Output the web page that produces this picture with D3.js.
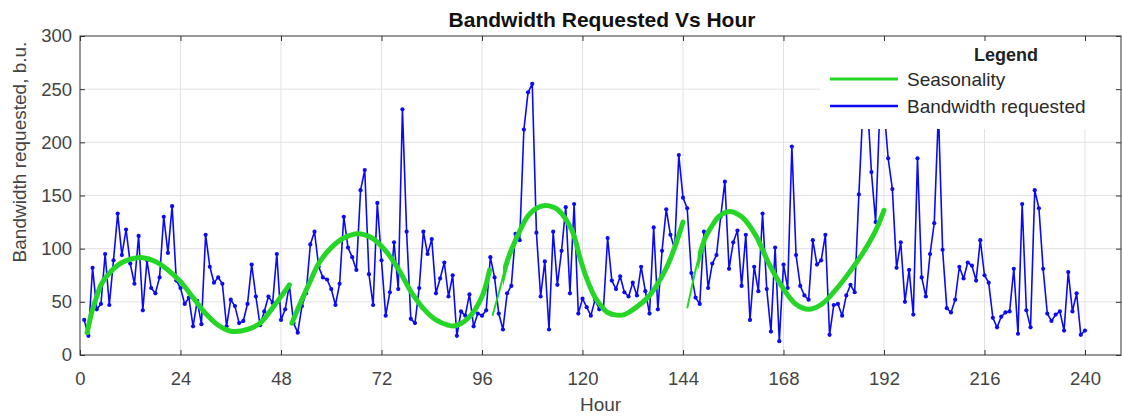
<!DOCTYPE html>
<html>
<head>
<meta charset="utf-8">
<script src="https://cdn.jsdelivr.net/npm/d3@7"></script>
<style>
  body { margin: 0; background: #fff; }
  svg { display: block; font-family: "Liberation Sans", Arial, sans-serif; }
</style>
</head>
<body>
<svg id="chart" width="1122" height="417"></svg>
<script>
// bandwidth requested per hour, hours 1..240
const bandwidth = [
  33, 18, 82, 43, 48, 95, 47, 89, 133, 94,
  118, 86, 67, 112, 42, 89, 63, 58, 73, 130,
  96, 140, 70, 63, 48, 54, 27, 51, 29, 113,
  83, 68, 73, 67, 27, 52, 46, 30, 32, 48,
  85, 55, 28, 41, 55, 49, 95, 33, 43, 66,
  30, 21, 46, 58, 104, 116, 83, 73, 71, 62,
  47, 67, 130, 101, 92, 80, 155, 174, 76, 47,
  143, 89, 37, 59, 106, 62, 231, 116, 34, 30,
  63, 116, 95, 109, 58, 72, 87, 55, 75, 18,
  41, 37, 57, 27, 39, 37, 42, 92, 73, 39,
  24, 58, 65, 114, 108, 212, 247, 255, 115, 55,
  88, 24, 116, 66, 98, 139, 58, 142, 39, 53,
  45, 37, 52, 43, 43, 110, 70, 62, 74, 59,
  55, 68, 56, 83, 60, 39, 120, 43, 98, 137,
  113, 100, 188, 148, 138, 77, 54, 48, 116, 63,
  86, 94, 130, 163, 81, 106, 117, 65, 113, 33,
  83, 60, 133, 62, 22, 101, 13, 85, 63, 196,
  94, 65, 56, 52, 108, 85, 89, 113, 19, 47,
  48, 37, 56, 66, 59, 151, 235, 240, 172, 125,
  230, 232, 185, 156, 82, 106, 50, 80, 38, 185,
  73, 55, 95, 124, 228, 99, 44, 40, 52, 83,
  72, 87, 84, 70, 108, 75, 68, 35, 26, 36,
  40, 41, 81, 20, 142, 42, 26, 155, 138, 81,
  39, 32, 38, 41, 23, 78, 41, 58, 19, 23
];

// seasonality curve, four separate fits: [hour, value]
const season1 = [[1.7, 21], [2.8, 40], [4, 55], [5, 66], [7, 77], [10, 87], [13, 91], [15, 91.5],
  [18, 88], [21, 80], [24, 69], [27, 54], [30, 39], [33, 28], [35.5, 23], [37, 22], [40, 24],
  [43, 30], [46.5, 47], [50, 66]];
const season2 = [[50.6, 30], [52.2, 45], [54.6, 66], [57, 86], [60, 101], [63, 110], [66.4, 114],
  [69.7, 110], [73, 98], [76, 81], [79.3, 58], [82.4, 42], [85, 33], [88, 28], [89.6, 27.5],
  [92.8, 35], [96, 55], [97.8, 80]];
const season3 = [[98.5, 37], [100, 58], [102, 88], [104, 108], [107, 131], [109, 138], [111, 140.5],
  [113, 139], [114.3, 136], [117.5, 117], [119.5, 90], [121, 72], [123, 54], [124.7, 45],
  [126, 40], [128.2, 37.5], [130, 38], [131.8, 42], [135.8, 55], [139.8, 80], [142, 101], [144, 125]];
const season4 = [[145, 44], [146, 62], [147, 80], [148.2, 97], [149.4, 111], [151, 122], [152.5, 130],
  [155, 135], [158, 130], [161.3, 113], [164.5, 86], [167.7, 64], [170.9, 48], [174, 43],
  [177.2, 48], [180.4, 61], [183.6, 77], [186.8, 95], [190, 117], [192, 136]];
const seasonality = [season1, season2, season3, season4];

const xTicks = [0, 24, 48, 72, 96, 120, 144, 168, 192, 216, 240];
const yTicks = [0, 50, 100, 150, 200, 250, 300];
const legendLabels = ['Seasonality', 'Bandwidth requested'];

const blue = '#0a0af5';
const green = '#26d626';

const margin = {top: 36, right: 1, bottom: 62, left: 80};
const width = 1122 - margin.left - margin.right;
const height = 417 - margin.top - margin.bottom;

const svg = d3.select('#chart');
const g = svg.append('g')
    .attr('transform', `translate(${margin.left},${margin.top})`);

const x = d3.scaleLinear().domain([0, 248.6]).range([0, width]);
const y = d3.scaleLinear().domain([0, 300]).range([height, 0]);

// grid
g.append('g').selectAll('line')
    .data(xTicks.slice(1))
    .enter().append('line')
    .attr('x1', d => x(d)).attr('x2', d => x(d))
    .attr('y1', 0).attr('y2', height)
    .attr('stroke', '#e2e2e2');
g.append('g').selectAll('line')
    .data(yTicks.slice(1, -1))
    .enter().append('line')
    .attr('x1', 0).attr('x2', width)
    .attr('y1', d => y(d)).attr('y2', d => y(d))
    .attr('stroke', '#e2e2e2');

// bandwidth series
const pts = bandwidth.map((v, i) => [i + 1, v]);
g.append('path')
    .datum(pts)
    .attr('fill', 'none')
    .attr('stroke', blue)
    .attr('stroke-width', 1.6)
    .attr('stroke-linejoin', 'round')
    .attr('d', d3.line().x(d => x(d[0])).y(d => y(d[1])));
g.append('g').selectAll('circle')
    .data(pts)
    .enter().append('circle')
    .attr('cx', d => x(d[0]))
    .attr('cy', d => y(d[1]))
    .attr('r', 2.1)
    .attr('fill', blue);

// seasonality: thin at the start of some fits, thick after
const seasonLine = d3.line()
    .x(d => x(d[0])).y(d => y(d[1]))
    .curve(d3.curveCatmullRom.alpha(0.5));
const thickFrom = [0, 0, 101, 147.5];
const defs = svg.append('defs');
seasonality.forEach((seg, i) => {
    defs.append('clipPath').attr('id', 'thick' + i)
      .append('rect')
        .attr('x', x(thickFrom[i])).attr('y', -5)
        .attr('width', width).attr('height', height + 10);
    g.append('path')
        .datum(seg)
        .attr('fill', 'none')
        .attr('stroke', green)
        .attr('stroke-width', 2)
        .attr('d', seasonLine);
    g.append('path')
        .datum(seg)
        .attr('fill', 'none')
        .attr('stroke', green)
        .attr('stroke-width', 5)
        .attr('stroke-linecap', 'round')
        .attr('clip-path', `url(#thick${i})`)
        .attr('d', seasonLine);
});

// legend (white box over the data)
const legend = g.append('g').attr('transform', `translate(${740},1)`);
legend.append('rect')
    .attr('width', width - 740).attr('height', 92)
    .attr('fill', '#fff');
legend.append('text')
    .attr('x', 186).attr('y', 24)
    .attr('text-anchor', 'middle')
    .attr('font-weight', 'bold')
    .attr('font-size', 18)
    .attr('fill', '#222')
    .text('Legend');
[green, blue].forEach((c, i) => {
    const ly = 42 + i * 27;
    legend.append('line')
        .attr('x1', 10).attr('x2', 78)
        .attr('y1', ly).attr('y2', ly)
        .attr('stroke', c)
        .attr('stroke-width', i === 0 ? 3 : 2.5);
    legend.append('text')
        .attr('x', 87).attr('y', ly)
        .attr('dy', '0.35em')
        .attr('font-size', 19)
        .attr('fill', '#2a2a2a')
        .text(legendLabels[i]);
});

// axes, ticks inward on all four sides
const xAxis = g.append('g')
    .attr('transform', `translate(0,${height})`)
    .call(d3.axisBottom(x).tickValues(xTicks).tickSize(-5).tickPadding(17));
const yAxis = g.append('g')
    .call(d3.axisLeft(y).tickValues(yTicks).tickSize(-5).tickPadding(8));
g.append('g')
    .call(d3.axisTop(x).tickValues(xTicks).tickSize(-5).tickFormat(''));
g.append('g')
    .attr('transform', `translate(${width},0)`)
    .call(d3.axisRight(y).tickValues(yTicks).tickSize(-5).tickFormat(''));

g.selectAll('.domain').remove();
g.selectAll('.tick line').attr('stroke', '#333');
g.selectAll('.tick text')
    .attr('font-size', 18.5)
    .attr('font-family', '"Liberation Sans", Arial, sans-serif')
    .attr('fill', '#444');

g.append('rect')
    .attr('width', width).attr('height', height)
    .attr('fill', 'none')
    .attr('stroke', '#333');

// labels
svg.append('text')
    .attr('x', 602).attr('y', 27)
    .attr('text-anchor', 'middle')
    .attr('font-weight', 'bold')
    .attr('font-size', 21)
    .attr('fill', '#111')
    .text('Bandwidth Requested Vs Hour');
svg.append('text')
    .attr('x', margin.left + width / 2).attr('y', 411)
    .attr('text-anchor', 'middle')
    .attr('font-size', 19)
    .attr('fill', '#444')
    .text('Hour');
svg.append('text')
    .attr('transform', 'translate(26,152) rotate(-90)')
    .attr('text-anchor', 'middle')
    .attr('font-size', 19)
    .attr('fill', '#444')
    .text('Bandwidth requested, b.u.');
</script>
</body>
</html>
